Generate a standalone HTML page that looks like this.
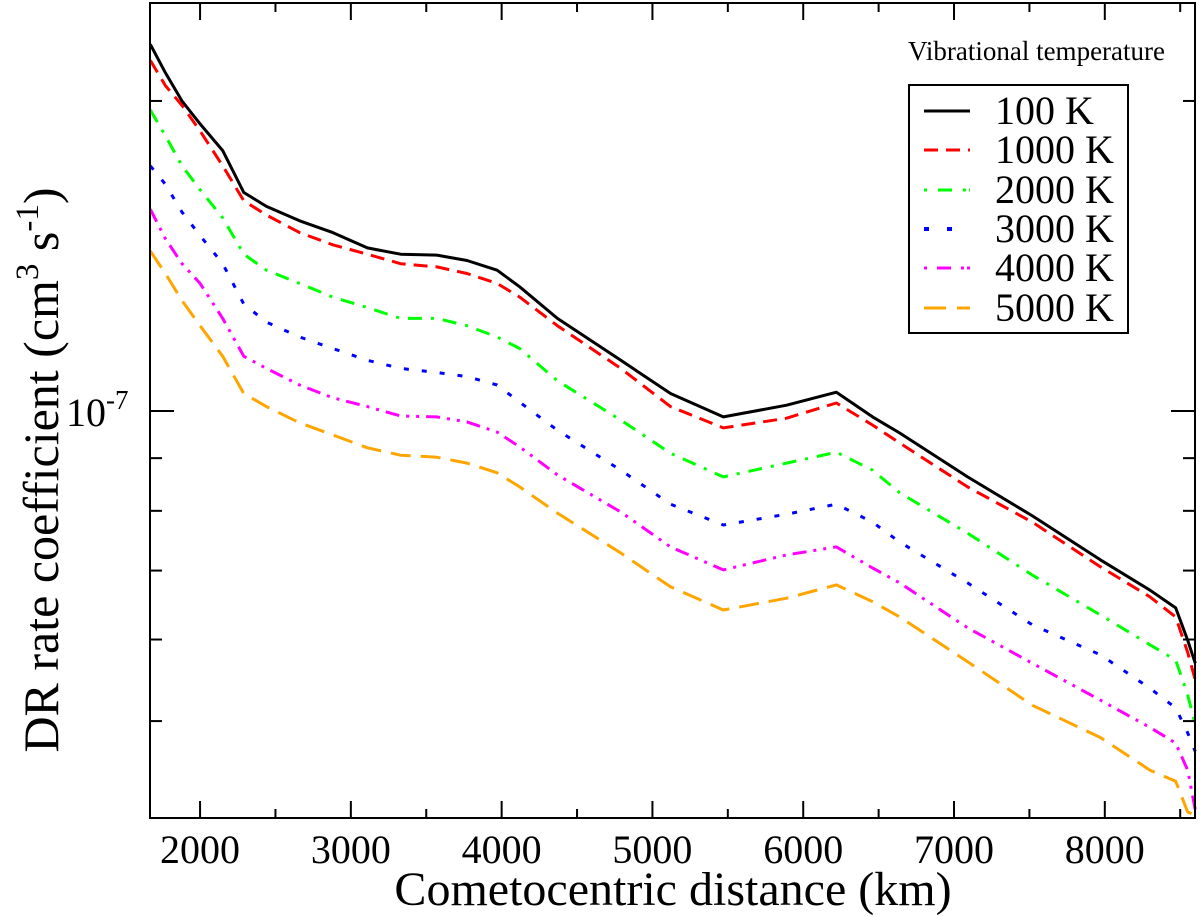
<!DOCTYPE html>
<html><head><meta charset="utf-8"><style>
html,body{margin:0;padding:0;background:#fff;}
svg{display:block;font-family:"Liberation Serif","DejaVu Serif",serif;}
</style></head><body>
<svg id="chart" width="1200" height="917" viewBox="0 0 1200 917" xmlns="http://www.w3.org/2000/svg">
<g id="marks"></g>
<g id="axes"></g>
</svg>
<script>
const distancesKm = [1670,1770,1880,2000,2150,2290,2440,2660,2880,3110,3330,3570,3770,3970,4120,4370,4790,5120,5470,5890,6220,6460,6640,7090,7520,7970,8300,8470,8550,8600];
const seriesLabels = ["100 K","1000 K","2000 K","3000 K","4000 K","5000 K"];
// DR rate coefficient values in units of 1e-7 cm^3 s^-1
const rate100K  = [2.27,2.13,2.00,1.90,1.79,1.63,1.58,1.53,1.49,1.44,1.42,1.417,1.40,1.37,1.32,1.23,1.12,1.04,0.987,1.013,1.043,0.987,0.952,0.863,0.791,0.717,0.670,0.644,0.599,0.569];
const rate1000K = [2.19,2.07,1.98,1.87,1.73,1.60,1.55,1.49,1.45,1.42,1.39,1.38,1.36,1.33,1.29,1.21,1.10,1.01,0.963,0.984,1.018,0.969,0.931,0.844,0.780,0.706,0.660,0.631,0.583,0.548];
const rate2000K = [1.96,1.85,1.73,1.64,1.54,1.42,1.37,1.33,1.29,1.26,1.23,1.23,1.21,1.18,1.15,1.07,0.980,0.910,0.863,0.890,0.912,0.876,0.833,0.761,0.693,0.634,0.593,0.573,0.530,0.496];
const rate3000K = [1.73,1.66,1.56,1.48,1.39,1.27,1.22,1.18,1.15,1.12,1.10,1.09,1.08,1.06,1.02,0.958,0.876,0.812,0.775,0.794,0.812,0.780,0.746,0.681,0.620,0.580,0.538,0.515,0.487,0.467];
const rate4000K = [1.57,1.47,1.39,1.33,1.23,1.13,1.10,1.06,1.03,1.01,0.989,0.987,0.976,0.954,0.923,0.867,0.798,0.738,0.701,0.725,0.738,0.704,0.681,0.616,0.569,0.524,0.493,0.476,0.448,0.410];
const rate5000K = [1.43,1.36,1.28,1.21,1.13,1.04,1.01,0.974,0.948,0.921,0.906,0.902,0.890,0.871,0.844,0.796,0.728,0.675,0.641,0.658,0.678,0.653,0.631,0.571,0.518,0.482,0.448,0.437,0.408,0.405];
const xTickValues = [2000,3000,4000,5000,6000,7000,8000];
const xTickLabels = ["2000","3000","4000","5000","6000","7000","8000"];
const yMinorTicks = [0.5,0.6,0.7,0.8,0.9,2];

const NS="http://www.w3.org/2000/svg";
const L=150,R=1195,T=3,B=818;
const XMIN=1668,XMAX=2000+(R-200)/150.8*1000;
const YMIN=0.4026,YMAX=2.4896;
function sx(v){return L+(v-XMIN)/(XMAX-XMIN)*(R-L);}
function sy(v){return B-(Math.log10(v)-Math.log10(YMIN))/(Math.log10(YMAX)-Math.log10(YMIN))*(B-T);}
function mk(tag,attrs,parent){const e=document.createElementNS(NS,tag);for(const k in attrs)e.setAttribute(k,attrs[k]);parent.appendChild(e);return e;}
const marks=document.getElementById('marks');
const axes=document.getElementById('axes');

const styles=[
 {c:"#000000",d:""},
 {c:"#ff0000",d:"14 8"},
 {c:"#00ff00",d:"14 9 3 9"},
 {c:"#0000ff",d:"5 13"},
 {c:"#ff00ff",d:"14 7 3 7 3 7"},
 {c:"#ffa500",d:"20 10"}
];
const allSeries=[rate100K,rate1000K,rate2000K,rate3000K,rate4000K,rate5000K];
allSeries.forEach((vals,i)=>{
  let d="";
  vals.forEach((v,j)=>{d+=(j?"L":"M")+sx(distancesKm[j]).toFixed(1)+","+sy(v).toFixed(1);});
  const p=mk('path',{d:d,fill:"none",stroke:styles[i].c,"stroke-width":3,"stroke-dasharray":styles[i].d,"stroke-linejoin":"round"},marks);
  
  
});

const fr=mk('rect',{x:L,y:T,width:R-L,height:B-T,fill:"none",stroke:"#000","stroke-width":2},axes);



for(let v=2000;v<=8500;v+=500){
  const x=sx(v), major=(v%1000===0), len=major?17:9;
  const t1=mk('line',{x1:x,y1:B,x2:x,y2:B-len,stroke:"#000","stroke-width":2},axes);
  
  
  const t2=mk('line',{x1:x,y1:T,x2:x,y2:T+len,stroke:"#000","stroke-width":2},axes);
  
  
}
xTickValues.forEach((v,i)=>{
  const t=mk('text',{x:sx(v),y:863,"text-anchor":"middle","font-size":40},axes);
  t.textContent=xTickLabels[i];
  
  
});
const majY=sy(1);
[[L,L+24],[R,R-24]].forEach(([a,b])=>{
  const t=mk('line',{x1:a,y1:majY,x2:b,y2:majY,stroke:"#000","stroke-width":2},axes);
  
  
});
yMinorTicks.forEach(v=>{
  const y=sy(v);
  [[L,L+12],[R,R-12]].forEach(([a,b])=>{
    const t=mk('line',{x1:a,y1:y,x2:b,y2:y,stroke:"#000","stroke-width":2},axes);
    
    
  });
});
</script>
<svg style="position:absolute;left:0;top:0" width="1200" height="917" viewBox="0 0 1200 917" xmlns="http://www.w3.org/2000/svg" font-family="Liberation Serif, DejaVu Serif, serif">
<text x="66" y="426" font-size="40">10<tspan dy="-17" font-size="27">-7</tspan></text>
<text x="673" y="905" text-anchor="middle" font-size="48">Cometocentric distance (km)</text>
<text transform="translate(58,470) rotate(-90)" text-anchor="middle" font-size="50">DR rate coefficient (cm<tspan dy="-20" font-size="33">3</tspan><tspan dy="20"> s</tspan><tspan dy="-20" font-size="33">-1</tspan><tspan dy="20">)</tspan></text>
<text x="1165" y="60" font-size="27" text-anchor="end">Vibrational temperature</text>
<g>
<rect x="909" y="85" width="219" height="248" fill="#fff" stroke="#000" stroke-width="2"/>
<g><line x1="924" y1="111" x2="970" y2="111" stroke="#000" stroke-width="3"/><text x="995" y="124" font-size="40">100 K</text></g>
<g><line x1="924" y1="150" x2="970" y2="150" stroke="#ff0000" stroke-width="3" stroke-dasharray="14 8"/><text x="995" y="163" font-size="40">1000 K</text></g>
<g><line x1="924" y1="190" x2="970" y2="190" stroke="#00ff00" stroke-width="3" stroke-dasharray="3 11 14 11 3"/><text x="995" y="203" font-size="40">2000 K</text></g>
<g><line x1="924" y1="229" x2="970" y2="229" stroke="#0000ff" stroke-width="4" stroke-dasharray="5 18"/><text x="995" y="242" font-size="40">3000 K</text></g>
<g><line x1="924" y1="268" x2="970" y2="268" stroke="#ff00ff" stroke-width="3" stroke-dasharray="3 10 14 10 3"/><text x="995" y="281" font-size="40">4000 K</text></g>
<g><line x1="924" y1="308" x2="970" y2="308" stroke="#ffa500" stroke-width="3" stroke-dasharray="22 11"/><text x="995" y="321" font-size="40">5000 K</text></g>
</g>
</svg>
</body></html>
